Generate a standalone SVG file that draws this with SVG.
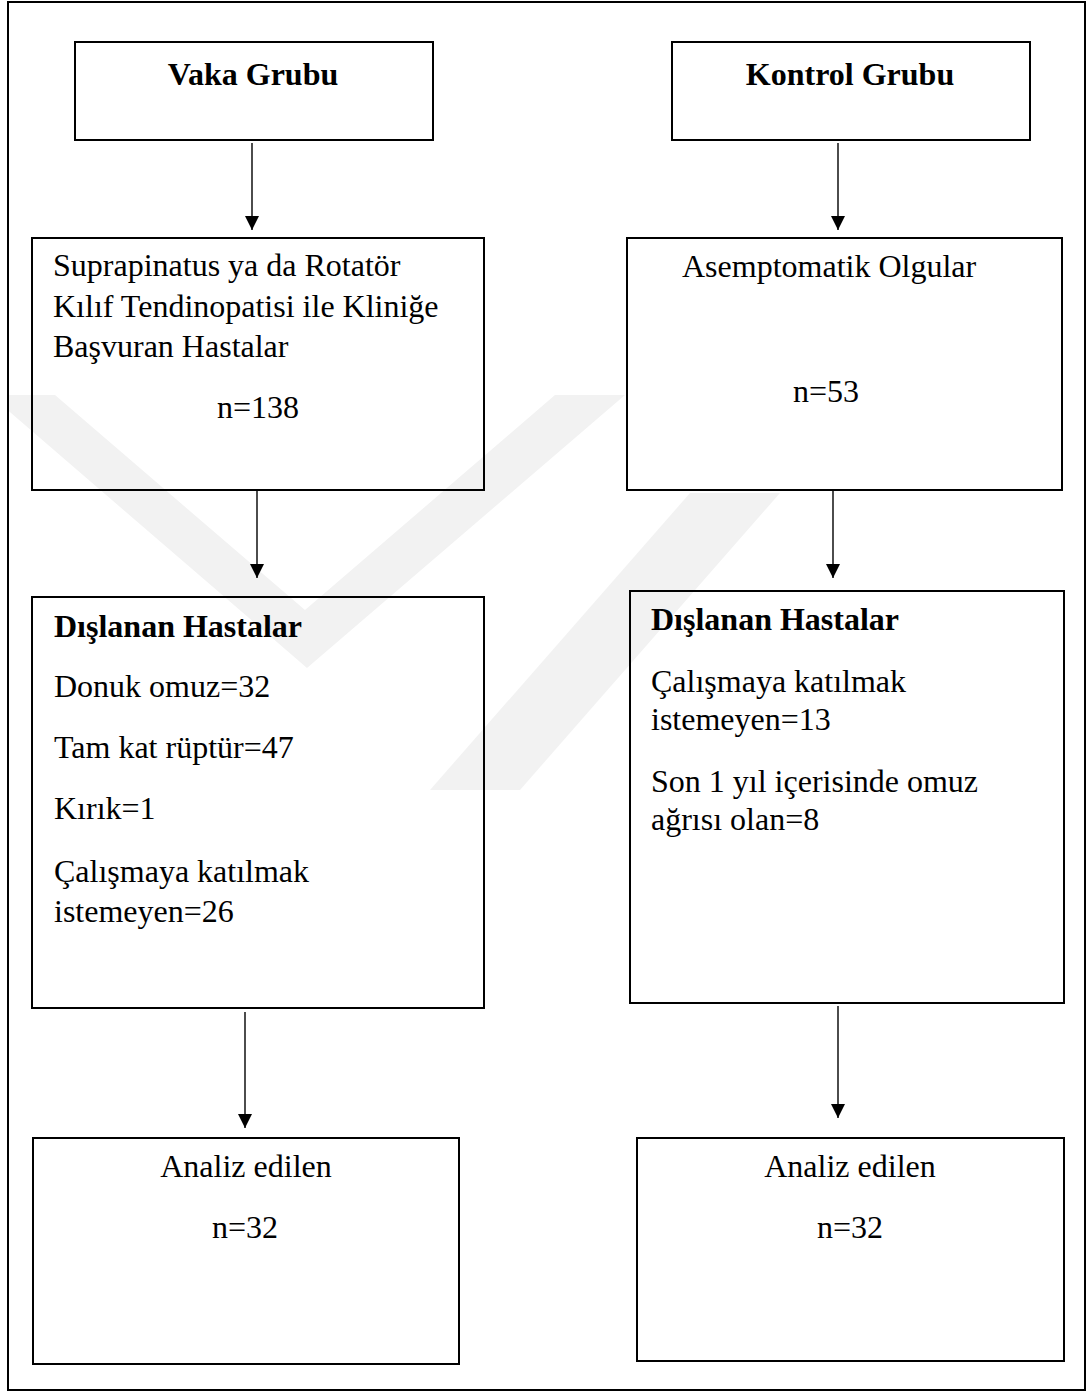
<svg xmlns="http://www.w3.org/2000/svg" width="1088" height="1393" viewBox="0 0 1088 1393">
  <style>
    .box { fill: none; stroke: #000; stroke-width: 2; }
    .frame { fill: none; stroke: #000; stroke-width: 2; }
    .t { font-family: "Liberation Serif", "Times New Roman", serif; font-size: 32px; fill: #000; }
    .b { font-weight: bold; }
    .c { text-anchor: middle; }
    .conn { stroke: #000; stroke-width: 1.4; fill: none; }
    .wm { fill: #f2f2f2; stroke: none; }
  </style>
  <defs>
    <marker id="ah" viewBox="0 0 10 10" refX="10" refY="5" markerWidth="14" markerHeight="14" markerUnits="userSpaceOnUse" orient="auto">
      <path d="M0,0 L10,5 L0,10 z" fill="#000"/>
    </marker>
    <clipPath id="inner"><rect x="9" y="3" width="1075" height="1386"/></clipPath>
  </defs>
  <rect width="1088" height="1393" fill="#fff"/>
  <g id="watermark" clip-path="url(#inner)">
    <polygon class="wm" points="-10,395 55,395 305,610 555,395 625,395 307,668"/>
    <polygon class="wm" points="690,493 780,493 520,790 430,790"/>
  </g>
  <rect id="frame" class="frame" x="8" y="2" width="1077" height="1388"/>

  <g id="vaka">
    <rect class="box" x="75" y="42" width="358" height="98"/>
    <text class="t b c" x="253" y="85">Vaka Grubu</text>
  </g>
  <g id="kontrol">
    <rect class="box" x="672" y="42" width="358" height="98"/>
    <text class="t b c" x="850" y="85">Kontrol Grubu</text>
  </g>
  <g id="hastalar">
    <rect class="box" x="32" y="238" width="452" height="252"/>
    <text class="t" x="53" y="276">Suprapinatus ya da Rotatör</text>
    <text class="t" x="53" y="317">Kılıf Tendinopatisi ile Kliniğe</text>
    <text class="t" x="53" y="357">Başvuran Hastalar</text>
    <text class="t c" x="258" y="418">n=138</text>
  </g>
  <g id="asemptomatik">
    <rect class="box" x="627" y="238" width="435" height="252"/>
    <text class="t" x="682" y="277">Asemptomatik Olgular</text>
    <text class="t c" x="826" y="402">n=53</text>
  </g>
  <g id="dislanan-vaka">
    <rect class="box" x="32" y="597" width="452" height="411"/>
    <text class="t b" x="54" y="637">Dışlanan Hastalar</text>
    <text class="t" x="54" y="697">Donuk omuz=32</text>
    <text class="t" x="54" y="758">Tam kat rüptür=47</text>
    <text class="t" x="54" y="819">Kırık=1</text>
    <text class="t" x="54" y="882">Çalışmaya katılmak</text>
    <text class="t" x="54" y="922">istemeyen=26</text>
  </g>
  <g id="dislanan-kontrol">
    <rect class="box" x="630" y="591" width="434" height="412"/>
    <text class="t b" x="651" y="630">Dışlanan Hastalar</text>
    <text class="t" x="651" y="692">Çalışmaya katılmak</text>
    <text class="t" x="651" y="730">istemeyen=13</text>
    <text class="t" x="651" y="792">Son 1 yıl içerisinde omuz</text>
    <text class="t" x="651" y="830">ağrısı olan=8</text>
  </g>
  <g id="analiz-vaka">
    <rect class="box" x="33" y="1138" width="426" height="226"/>
    <text class="t c" x="246" y="1177">Analiz edilen</text>
    <text class="t c" x="245" y="1238">n=32</text>
  </g>
  <g id="analiz-kontrol">
    <rect class="box" x="637" y="1138" width="427" height="223"/>
    <text class="t c" x="850" y="1177">Analiz edilen</text>
    <text class="t c" x="850" y="1238">n=32</text>
  </g>

  <g id="connectors">
    <line class="conn" x1="252" y1="143" x2="252" y2="230" marker-end="url(#ah)"/>
    <line class="conn" x1="838" y1="143" x2="838" y2="230" marker-end="url(#ah)"/>
    <line class="conn" x1="257" y1="491" x2="257" y2="578" marker-end="url(#ah)"/>
    <line class="conn" x1="833" y1="491" x2="833" y2="578" marker-end="url(#ah)"/>
    <line class="conn" x1="245" y1="1012" x2="245" y2="1128" marker-end="url(#ah)"/>
    <line class="conn" x1="838" y1="1006" x2="838" y2="1118" marker-end="url(#ah)"/>
  </g>
</svg>
